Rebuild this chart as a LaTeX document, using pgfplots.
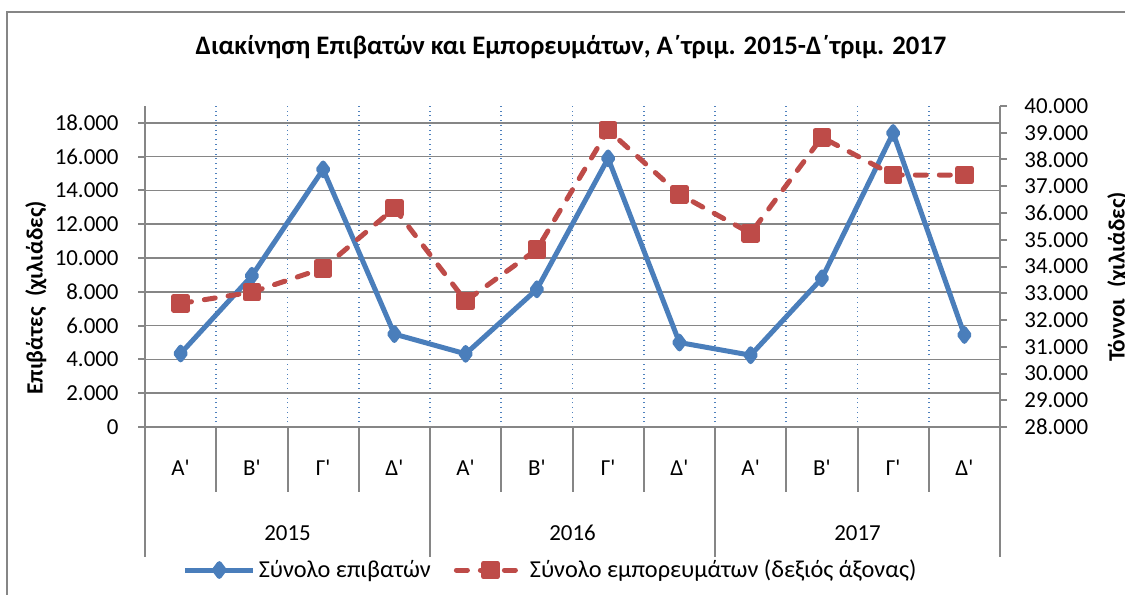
\documentclass[border=0pt]{standalone}
\usepackage{fontspec}
\setmainfont{Carlito}[Ligatures=TeXOff]
\usepackage{pgfplots}
\pgfplotsset{compat=1.18}
\definecolor{pblue}{RGB}{74,126,187}
\definecolor{pred}{RGB}{190,75,72}
\definecolor{gridgray}{RGB}{134,134,134}
\definecolor{dotblue}{RGB}{79,129,189}
\pgfplotsset{
  myaxis/.style={
    scale only axis, width=427.5bp, height=160.5bp,
    at={(72.5bp,83.5bp)}, anchor=south west,
    xmin=0.5, xmax=12.5,
    tick label style={font=\fontsize{11.5}{13}\selectfont},
    scaled y ticks=false,
    /pgf/number format/fixed,
    /pgf/number format/precision=0,
    /pgf/number format/1000 sep={.},
    /pgf/number format/assume math mode=true,
    axis line style={-, gridgray, line width=1bp},
    major tick length=3.5bp, tick align=outside,
    ytick style={gridgray, line width=1bp},
    clip=false,
  },
  bluestyle/.style={color=pblue, line width=2.5bp, line join=round, mark=diamond*, mark size=3.2bp, mark options={solid}},
  redstyle/.style={color=pred, line width=2.5bp, line cap=round, line join=round, dash pattern=on 5.5bp off 6.5bp, mark=square*, mark size=3.4bp, mark options={solid}},
}
\begin{document}
\begin{tikzpicture}[x=1bp,y=1bp]
\useasboundingbox (0,0) rectangle (562.5,297);
\draw[gridgray, line width=1bp] (3.5,-10) -- (3.5,291) -- (580,291);
\node[font=\bfseries\fontsize{13.4}{15}\selectfont] at (285.5,273.5) {Διακίνηση Επιβατών και Εμπορευμάτων, Α΄τριμ. 2015-Δ΄τριμ. 2017};
\node[font=\bfseries\fontsize{11.7}{13}\selectfont, rotate=90] at (18,148) {Επιβάτες\ \ (χιλιάδες)};
\node[font=\bfseries\fontsize{11.7}{13}\selectfont, rotate=90] at (559,158.5) {Τόννοι\ \ (χιλιάδες)};
\begin{axis}[myaxis,
  ymin=0, ymax=19000, ytick={0,2000,...,18000},
  axis y line*=left, axis x line*=bottom,
  xtick={1,...,12},
  xticklabels={Α',Β',Γ',Δ',Α',Β',Γ',Δ',Α',Β',Γ',Δ'},
  xticklabel style={anchor=center, yshift=-17bp, inner sep=0pt},
  major x tick style={draw=none},
  minor xtick={1.5,2.5,...,11.5}, minor tick length=0pt,
  xminorgrids, minor x grid style={dotblue, dotted, line width=0.8bp},
  ymajorgrids, major y grid style={gridgray, line width=0.8bp},
  yticklabel style={inner sep=0pt, xshift=-9.5bp, anchor=east},
]
\addplot[bluestyle] coordinates {
(1,4350) (2,8950) (3,15250) (4,5500) (5,4330) (6,8150) (7,15900) (8,5000) (9,4250) (10,8800) (11,17400) (12,5450)};
\end{axis}
\begin{axis}[myaxis,
  ymin=28000, ymax=40000, ytick={28000,29000,...,40000},
  axis y line*=right, axis x line=none, xtick=\empty,
  yticklabel style={inner sep=0pt, xshift=8.5bp, anchor=west},
  legend columns=2,
  legend style={at={(0.475,-0.4455)}, anchor=center, draw=none, fill=none,
    font=\fontsize{12.2}{14}\selectfont, cells={anchor=west},
    nodes={inner sep=1.5bp},
    /tikz/every even column/.append style={column sep=10bp}},
  legend image code/.code={\draw[mark repeat=2,mark phase=2,#1] plot coordinates {(0bp,0bp) (17bp,0bp) (34bp,0bp)};},
]
\addlegendimage{bluestyle}
\addlegendentry{Σύνολο επιβατών}
\addplot[redstyle] coordinates {
(1,32620) (2,33040) (3,33930) (4,36180) (5,32710) (6,34640) (7,39100) (8,36700) (9,35240) (10,38830) (11,37420) (12,37420)};
\addlegendentry{Σύνολο εμπορευμάτων (δεξιός άξονας)}
\end{axis}
\begin{scope}[gridgray, line width=1bp]
\foreach \k in {1,2,3,5,6,7,9,10,11} \draw (72.5+\k*35.625,83.5) -- (72.5+\k*35.625,51);
\foreach \k in {0,4,8,12} \draw (72.5+\k*35.625,83.5) -- (72.5+\k*35.625,18.5);
\end{scope}
\begin{scope}[font=\fontsize{11.5}{13}\selectfont]
\node at (143.75,30.5) {2015};
\node at (286.25,30.5) {2016};
\node at (428.75,30.5) {2017};
\end{scope}
\end{tikzpicture}
\end{document}
